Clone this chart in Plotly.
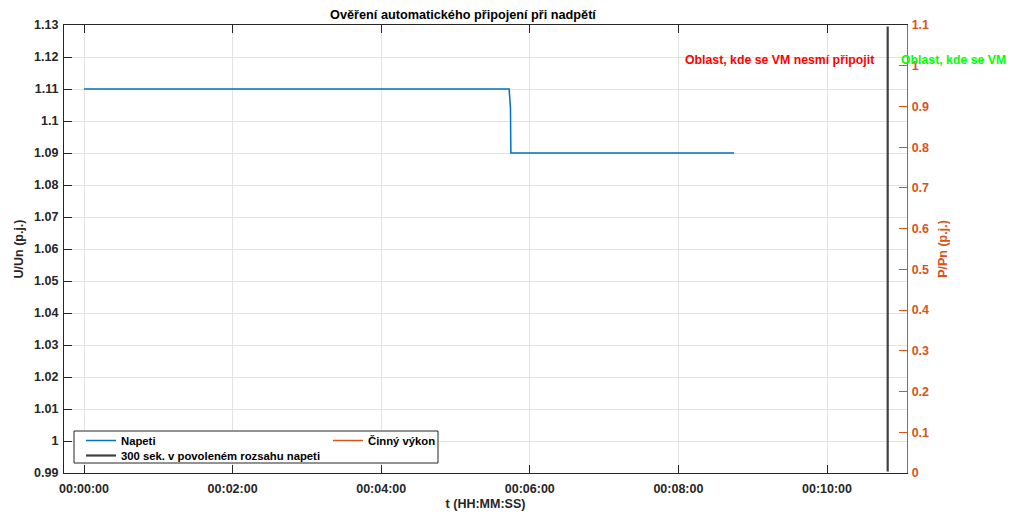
import plotly.graph_objects as go

# --- data ---
cas_s = [0, 60, 120, 180, 240, 300, 343.3, 344.4, 344.7, 400, 460, 525]
napeti = [1.11, 1.11, 1.11, 1.11, 1.11, 1.11, 1.11, 1.104, 1.09, 1.09, 1.09, 1.09]

hranice_x = [649, 649]
hranice_y = [0.9905, 1.1295]

x_tickvals = [0, 120, 240, 360, 480, 600]
x_ticktext = ['00:00:00', '00:02:00', '00:04:00', '00:06:00', '00:08:00', '00:10:00']

y_tickvals = [0.99, 1.0, 1.01, 1.02, 1.03, 1.04, 1.05, 1.06, 1.07, 1.08, 1.09, 1.1, 1.11, 1.12, 1.13]
y_ticktext = ['0.99', '1', '1.01', '1.02', '1.03', '1.04', '1.05', '1.06', '1.07', '1.08', '1.09',
              '1.1', '1.11', '1.12', '1.13']
y2_tickvals = [0, 0.1, 0.2, 0.3, 0.4, 0.5, 0.6, 0.7, 0.8, 0.9, 1.0, 1.1]
y2_ticktext = ['0', '0.1', '0.2', '0.3', '0.4', '0.5', '0.6', '0.7', '0.8', '0.9', '1', '1.1']

text_nesmi = 'Oblast, kde se VM nesmí připojit'
text_smi = 'Oblast, kde se VM'
nadpis = 'Ověření automatického připojení při nadpětí'

blue = '#0072BD'
orange = '#D95319'
dark = '#262626'
font = 'Liberation Sans, Arial, sans-serif'

# plot area in pixels
L, R, T, B = 64, 907, 25, 473
W, H = R - L, B - T


def px(x):
    return (x - L) / W


def py(y):
    return (B - y) / H


fig = go.Figure()
fig.add_trace(go.Scatter(x=cas_s, y=napeti, mode='lines', name='Napeti',
                         line=dict(color=blue, width=1.5), legend='legend'))
fig.add_trace(go.Scatter(x=hranice_x, y=hranice_y, mode='lines',
                         name='300 sek. v povoleném rozsahu napeti',
                         line=dict(color='#404040', width=2.2), legend='legend3'))
fig.add_trace(go.Scatter(x=[None], y=[None], mode='lines', name='Činný výkon',
                         line=dict(color=orange, width=1.5), yaxis='y2', legend='legend2'))

fig.add_annotation(x=px(876), y=py(60), xref='paper', yref='paper', text=text_nesmi,
                   showarrow=False, xanchor='right', yanchor='middle',
                   font=dict(family=font, size=12.3, color='#FF0000', weight='bold'))
fig.add_annotation(x=px(899), y=py(60), xref='paper', yref='paper', text=text_smi,
                   showarrow=False, xanchor='left', yanchor='middle',
                   font=dict(family=font, size=12.3, color='#00FF00', weight='bold'))

# legend frame
fig.add_shape(type='rect', xref='paper', yref='paper',
              x0=px(74), x1=px(438), y0=py(463), y1=py(431),
              line=dict(color=dark, width=1), fillcolor='white', layer='above')

legend_font = dict(family=font, size=11.3, color='#000000', weight='bold')
leg = dict(xanchor='left', yanchor='top', bgcolor='rgba(0,0,0,0)', borderwidth=0,
           font=legend_font, itemwidth=30)

ax_font = dict(family=font, size=12.5, color=dark, weight='bold')
title_font = dict(family=font, size=12.5, color=dark, weight='bold')

fig.update_layout(
    width=1016, height=515,
    margin=dict(l=L, r=1016 - R, t=T, b=515 - B, autoexpand=False),
    paper_bgcolor='white', plot_bgcolor='white',
    showlegend=True,
    font=dict(family=font, size=11, color=dark),
    title=dict(text=nadpis, x=px(463), xref='paper', xanchor='center',
               y=1 - 15 / 515, yanchor='middle',
               font=dict(family=font, size=12.7, color='#000000', weight='bold')),
    xaxis=dict(range=[-16.15, 664.6], tickvals=x_tickvals, ticktext=x_ticktext,
               automargin=False, showline=True, linecolor=dark, linewidth=1.3, mirror='ticks',
               ticks='inside', ticklen=8, tickcolor=dark, showgrid=True, gridcolor='#e3e3e3',
               zeroline=False, tickfont=ax_font, ticklabelstandoff=4,
               title=dict(text='t (HH:MM:SS)', standoff=4, font=title_font)),
    yaxis=dict(range=[0.99, 1.13], tickvals=y_tickvals, ticktext=y_ticktext,
               automargin=False, showline=True, linecolor=dark, linewidth=1.3, mirror=False,
               ticks='inside', ticklen=8, tickcolor=dark, showgrid=True, gridcolor='#e3e3e3',
               zeroline=False, tickfont=ax_font, ticklabelstandoff=2,
               title=dict(text='U/Un (p.j.)', standoff=7, font=title_font)),
    yaxis2=dict(range=[0, 1.1], tickvals=y2_tickvals, ticktext=y2_ticktext,
                overlaying='y', side='right', anchor='x', automargin=False,
                showline=True, linecolor=orange, linewidth=1.3,
                ticks='inside', ticklen=8, tickcolor=orange, showgrid=False, zeroline=False,
                tickfont=dict(family=font, size=12.5, color=orange, weight='bold'),
                ticklabelstandoff=1,
                title=dict(text='P/Pn (p.j.)', standoff=10,
                           font=dict(family=font, size=12.5, color=orange, weight='bold'))),
    legend=dict(x=px(81), y=py(426), visible=True, **leg),
    legend2=dict(x=px(328), y=py(426), **leg),
    legend3=dict(x=px(81), y=py(441), **leg),
)

# page body has an 8px default margin; remove it so the figure sits at the top-left
fig.write_html('out.html', config={'displayModeBar': False},
               post_script="document.body.style.margin='0';")
